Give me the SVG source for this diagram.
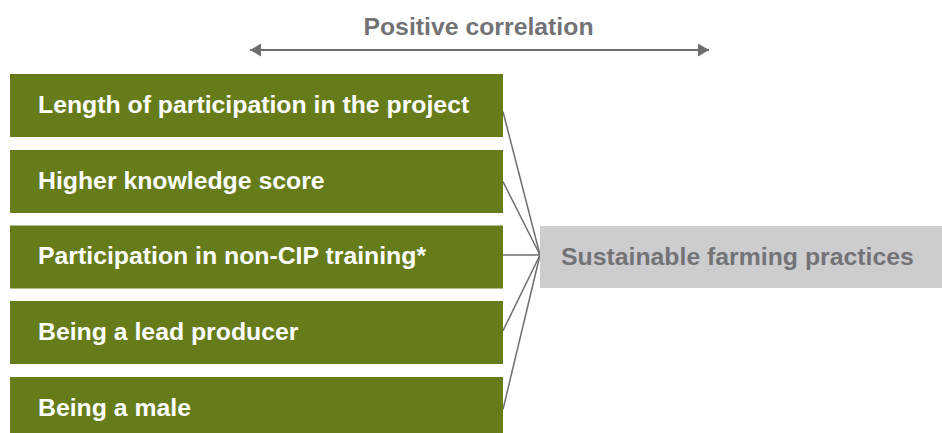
<svg xmlns="http://www.w3.org/2000/svg" width="942" height="433" viewBox="0 0 942 433">
<style>
.box{fill:#667c1a}
.lbl{font-family:"Liberation Sans",Arial,sans-serif;font-weight:bold;font-size:24.8px;fill:#ffffff}
.gray{font-family:"Liberation Sans",Arial,sans-serif;font-weight:bold;font-size:24.8px;fill:#737376}
.conn{stroke:#6d6e71;stroke-width:1.5;fill:none}
</style>
<defs>
<marker id="ah" viewBox="0 0 11 13" refX="11" refY="6.5" markerWidth="11" markerHeight="13" markerUnits="userSpaceOnUse" orient="auto-start-reverse">
<path d="M0,0 L11,6.5 L0,13 Z" fill="#6d6e71"/>
</marker>
</defs>
<g id="title">
<text class="gray" x="478.5" y="35" text-anchor="middle">Positive correlation</text>
<line x1="250" y1="50" x2="709" y2="50" stroke="#6d6e71" stroke-width="2" marker-start="url(#ah)" marker-end="url(#ah)"/>
</g>
<g id="connectors">
<line class="conn" x1="503" y1="111.7" x2="540" y2="255"/>
<line class="conn" x1="503" y1="181.7" x2="540" y2="255"/>
<line class="conn" x1="503" y1="255" x2="540" y2="255"/>
<line class="conn" x1="503" y1="330.7" x2="540" y2="255"/>
<line class="conn" x1="503" y1="409.3" x2="540" y2="255"/>
</g>
<g id="n1"><rect class="box" x="10" y="74" width="493" height="63"/><text class="lbl" x="38" y="112.5">Length of participation in the project</text></g>
<g id="n2"><rect class="box" x="10" y="150" width="493" height="63"/><text class="lbl" x="38" y="188.5">Higher knowledge score</text></g>
<g id="n3"><rect class="box" x="10" y="225.5" width="493" height="63"/><text class="lbl" x="38" y="264">Participation in non-CIP training*</text></g>
<g id="n4"><rect class="box" x="10" y="301" width="493" height="63"/><text class="lbl" x="38" y="339.5">Being a lead producer</text></g>
<g id="n5"><rect class="box" x="10" y="377" width="493" height="63"/><text class="lbl" x="38" y="415.5">Being a male</text></g>
<g id="target"><rect x="540" y="226" width="402" height="62" fill="#cdcdcf"/><text class="gray" x="561" y="265">Sustainable farming practices</text></g>
</svg>
